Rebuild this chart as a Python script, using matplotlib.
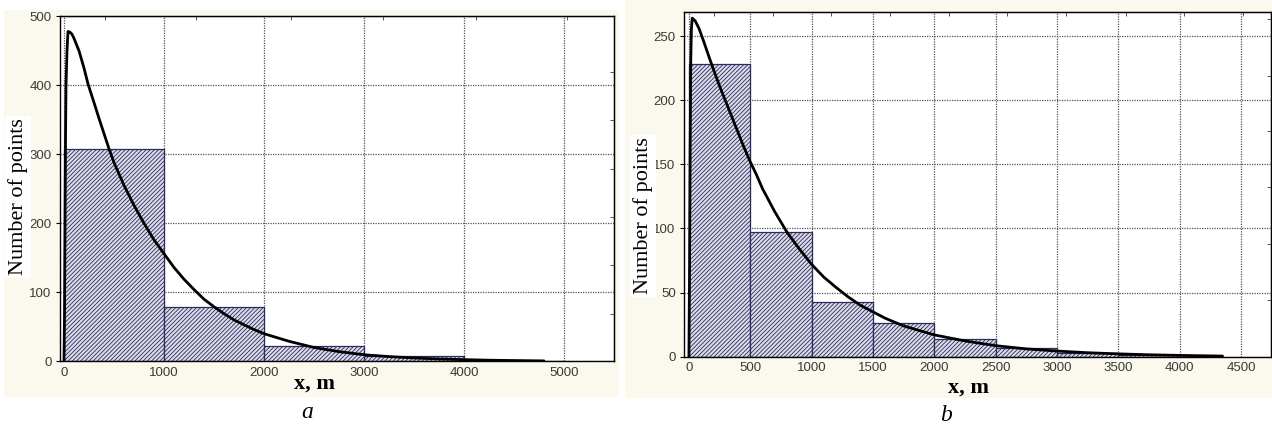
import numpy as np
import matplotlib
matplotlib.use("Agg")
import matplotlib.pyplot as plt
from matplotlib.patches import Rectangle

# ---- data ----
# panel a: histogram (bin edges, counts) and fitted curve
edges_a = [0, 1000, 2000, 3000, 4000, 5000]
counts_a = [308, 78, 22, 7, 1]
curve_x_a = [0, 5, 10, 15, 20, 30, 40, 60, 80, 100, 150, 200, 240, 300, 350, 400, 450,
             500, 600, 700, 800, 900, 1000, 1100, 1200, 1300, 1400, 1500, 1600, 1700,
             1800, 1900, 2000, 2250, 2500, 2750, 3000, 3250, 3500, 3750, 4000, 4250,
             4500, 4800]
curve_y_a = [0, 65, 190, 320, 400, 450, 478, 477, 474, 468, 450, 425, 402, 375, 352, 330, 308,
             288, 255, 226, 200, 176, 156, 136, 119, 104, 90, 79, 69, 60,
             53, 46, 40, 29, 20, 14, 9.5, 6.8, 4.8, 3.4, 2.4, 1.6,
             1.1, 0.6]
xticks_a = [0, 1000, 2000, 3000, 4000, 5000]
yticks_a = [0, 100, 200, 300, 400, 500]
top_ticks_a = [413, 1324, 2267, 3186, 4117, 5028]
right_ticks_a = [69, 139, 209, 279, 350, 420]

# panel b
edges_b = [0, 500, 1000, 1500, 2000, 2500, 3000, 3500, 4000]
counts_b = [228, 97, 43, 26, 14, 7, 3, 1]
curve_x_b = [0, 5, 10, 15, 20, 27, 50, 82, 120, 163, 200, 250, 300, 350, 400, 450, 500,
             550, 600, 650, 700, 750, 800, 900, 1000, 1100, 1200, 1300, 1400, 1500,
             1600, 1750, 2000, 2250, 2500, 2750, 3000, 3250, 3500, 3750, 4000, 4350]
curve_y_b = [0, 65, 160, 230, 255, 264, 262, 256, 246, 234, 224, 211, 199, 187, 175, 163, 152,
             142, 131, 122, 113, 105, 97, 84, 72, 62, 54, 46.5, 40, 35,
             30, 24, 17, 12.3, 8.6, 6.1, 4.4, 3.1, 2.2, 1.5, 1.0, 0.5]
xticks_b = [0, 500, 1000, 1500, 2000, 2500, 3000, 3500, 4000, 4500]
yticks_b = [0, 50, 100, 150, 200, 250]
top_ticks_b = [205, 684, 1162, 1636, 2120, 2597, 3077, 3561, 4039, 4516]
right_ticks_b = [44, 88, 132, 176, 219, 263]

W, H = 1272, 424
plt.rcParams["hatch.linewidth"] = 0.6
plt.rcParams["hatch.color"] = "#3a3a6a"

serif = ["Liberation Serif", "DejaVu Serif"]
sans = ["Liberation Sans", "DejaVu Sans"]


def px_axes(fig, left, top, right, bottom):
    return fig.add_axes([left / W, 1 - bottom / H, (right - left) / W, (bottom - top) / H])


def draw_panel(ax, edges, counts, cx, cy, xticks, yticks, xlim, ylim, top_ticks, right_ticks):
    ax.set_axisbelow(True)
    ax.grid(True, color="#555555", linestyle=(0, (1, 1)), linewidth=0.9)
    ax.bar(edges[:-1], counts, width=np.diff(edges), align="edge",
           facecolor="#dcdce8", edgecolor="#2a2a5e", linewidth=0.9, hatch="/" * 8, zorder=2)
    ax.plot(cx, cy, color="black", linewidth=2.0, solid_joinstyle="round",
            solid_capstyle="round", zorder=3)
    ax.set_xlim(*xlim)
    ax.set_ylim(*ylim)
    ax.set_xticks(xticks)
    ax.set_yticks(yticks)
    for lab in ax.get_xticklabels() + ax.get_yticklabels():
        lab.set_family(sans)
    ax.tick_params(labelsize=9.5, labelcolor="#3a3a3a", length=3, width=0.8, pad=3)
    ax.tick_params(axis="x", length=0, pad=4)
    for sp in ax.spines.values():
        sp.set_linewidth(1.0)
        sp.set_color("black")
    sec_x = ax.secondary_xaxis("top")
    sec_x.set_xticks(top_ticks, labels=[])
    sec_x.tick_params(direction="in", length=3, width=0.7, color="#555555")
    sec_y = ax.secondary_yaxis("right")
    sec_y.set_yticks(right_ticks, labels=[])
    sec_y.tick_params(direction="in", length=3, width=0.7, color="#555555")


fig = plt.figure(figsize=(W / 100, H / 100), dpi=100)
fig.patch.set_facecolor("white")

# cream scanned-paper backgrounds of the two panels
fig.add_artist(Rectangle((4 / W, 1 - 397 / H), 615 / W, 387 / H, transform=fig.transFigure,
                         facecolor="#fbf8ee", edgecolor="none", zorder=0))
fig.add_artist(Rectangle((625 / W, 1 - 398 / H), 647 / W, 398 / H, transform=fig.transFigure,
                         facecolor="#fbf8ee", edgecolor="none", zorder=0))

ax_a = px_axes(fig, 60, 16.3, 614, 361.3)
draw_panel(ax_a, edges_a, counts_a, curve_x_a, curve_y_a, xticks_a, yticks_a,
           (-40, 5500), (0, 500), top_ticks_a, right_ticks_a)

ax_b = px_axes(fig, 684, 11.7, 1271, 356.7)
draw_panel(ax_b, edges_b, counts_b, curve_x_b, curve_y_b, xticks_b, yticks_b,
           (-40, 4745), (0, 269), top_ticks_b, right_ticks_b)

# axis titles and panel letters
fig.text(18 / W, 1 - 197 / H, "Number of points", rotation=90, ha="center", va="center",
         family=serif, fontsize=16,
         bbox=dict(facecolor="white", edgecolor="none", pad=2))
fig.text(643 / W, 1 - 216 / H, "Number of points", rotation=90, ha="center", va="center",
         family=serif, fontsize=16,
         bbox=dict(facecolor="white", edgecolor="none", pad=2))
fig.text(314 / W, 1 - 389 / H, "x, m", ha="center", va="baseline",
         family=serif, fontsize=16, fontweight="bold")
fig.text(968 / W, 1 - 393 / H, "x, m", ha="center", va="baseline",
         family=serif, fontsize=16, fontweight="bold")
fig.text(307 / W, 1 - 418 / H, "a", ha="center", va="baseline",
         family=serif, fontsize=17, style="italic")
fig.text(946 / W, 1 - 421 / H, "b", ha="center", va="baseline",
         family=serif, fontsize=17, style="italic")

fig.savefig("out.png", dpi=100)
